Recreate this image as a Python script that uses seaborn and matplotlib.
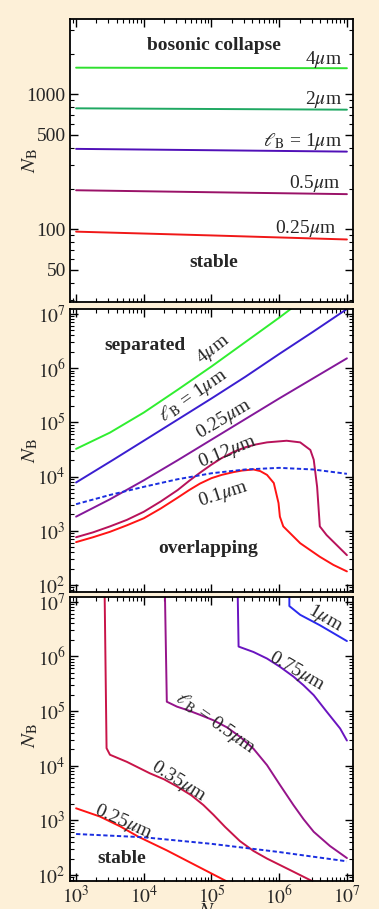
import numpy as np
import pandas as pd
import matplotlib
matplotlib.use("Agg")
import matplotlib.pyplot as plt
import seaborn as sns
from matplotlib.ticker import FixedLocator, NullFormatter, FixedFormatter, LogLocator

sns.set_style("white")
plt.rcParams['font.family'] = ['Liberation Serif', 'DejaVu Serif']
plt.rcParams['mathtext.fontset'] = 'stix'

# ---------------- data (log10 values) ----------------
# Panel 1: N_B threshold vs N (bosonic collapse)
p1_logN = [3.0, 5.0, 7.0]
p1_4um = [1574, 1567, 1560]
p1_2um = [787, 778, 769]
p1_1um = [394, 385, 376]
p1_05um = [194.5, 188, 182]
p1_025um = [96, 90, 84]

# Panel 2: separated / overlapping
p2_4um_logN = [3.0, 3.5, 4.0, 4.5, 5.0, 5.5, 6.0, 6.17]
p2_4um_logNB = [4.51, 4.81, 5.18, 5.60, 6.03, 6.48, 6.93, 7.09]
p2_1um_logN = [3.0, 3.55, 4.0, 4.5, 5.0, 5.5, 6.0, 6.5, 7.0]
p2_1um_logNB = [3.89, 4.31, 4.66, 5.05, 5.44, 5.84, 6.26, 6.67, 7.09]
p2_025um_logN = [3.0, 3.5, 4.0, 4.5, 5.0, 5.5, 6.0, 6.5, 7.0]
p2_025um_logNB = [3.26, 3.58, 3.93, 4.30, 4.68, 5.06, 5.44, 5.81, 6.18]
p2_012um_logN = [3.0, 3.25, 3.5, 3.75, 4.0, 4.25, 4.5, 4.67, 4.83, 5.0, 5.15, 5.32,
                 5.5, 5.65, 5.82, 6.11, 6.31, 6.46, 6.51, 6.56, 6.60, 6.70, 7.0]
p2_012um_logNB = [2.88, 2.97, 3.08, 3.20, 3.35, 3.54, 3.75, 3.92, 4.07, 4.22, 4.34, 4.45,
                  4.54, 4.59, 4.63, 4.66, 4.63, 4.49, 4.31, 3.81, 3.08, 2.92, 2.55]
p2_01um_logN = [3.0, 3.25, 3.5, 3.75, 4.0, 4.25, 4.5, 4.67, 4.83, 5.0, 5.15, 5.32,
                5.45, 5.62, 5.72, 5.82, 5.92, 5.99, 6.01, 6.06, 6.31, 6.60, 6.80, 7.0]
p2_01um_logNB = [2.79, 2.88, 2.98, 3.10, 3.23, 3.41, 3.61, 3.75, 3.87, 3.97, 4.03, 4.08,
                 4.11, 4.13, 4.10, 4.03, 3.88, 3.51, 3.26, 3.08, 2.77, 2.52, 2.37, 2.25]
p2_dash_logN = [3.0, 3.5, 4.0, 4.5, 5.0, 5.5, 6.0, 6.5, 7.0]
p2_dash_logNB = [3.49, 3.66, 3.81, 3.95, 4.06, 4.13, 4.16, 4.13, 4.05]

# Panel 3: stability of the overlapping phase
p3_1um_logN = [6.15, 6.15, 6.19, 6.31, 6.60, 7.0]
p3_1um_logNB = [7.3, 6.92, 6.88, 6.76, 6.57, 6.28]
p3_075um_logN = [5.385, 5.40, 5.42, 5.62, 5.82, 6.01, 6.21, 6.36, 6.51, 6.70, 6.90, 7.0]
p3_075um_logNB = [7.3, 6.18, 6.17, 6.08, 5.96, 5.81, 5.63, 5.47, 5.29, 4.99, 4.68, 4.46]
p3_05um_logN = [4.31, 4.34, 4.49, 4.66, 4.83, 5.03, 5.23, 5.42, 5.62, 5.82, 6.01, 6.21,
                6.36, 6.51, 6.75, 7.0]
p3_05um_logNB = [7.3, 5.17, 5.08, 5.01, 4.93, 4.83, 4.70, 4.53, 4.31, 4.01, 3.65, 3.28,
                 3.02, 2.79, 2.53, 2.31]
p3_035um_logN = [3.42, 3.45, 3.50, 3.75, 4.09, 4.30, 4.49, 4.70, 4.88, 5.03, 5.20, 5.42,
                 5.62, 5.82, 6.21, 6.50]
p3_035um_logNB = [7.3, 4.32, 4.20, 4.07, 3.86, 3.75, 3.62, 3.46, 3.28, 3.10, 2.88, 2.62,
                  2.44, 2.30, 2.06, 1.88]
p3_025um_logN = [3.0, 3.35, 3.65, 3.92, 4.34, 4.73, 5.23]
p3_025um_logNB = [3.22, 3.07, 2.89, 2.70, 2.45, 2.20, 1.88]
p3_dash_logN = [3.0, 4.0, 5.0, 6.0, 7.0]
p3_dash_logNB = [2.75, 2.69, 2.57, 2.42, 2.25]

BG = '#fdf0d8'
LW = 1.4
DASH = (0, (2.2, 1.3))

fig = plt.figure(figsize=(3.79, 9.09), dpi=100, facecolor=BG)
W = 379.0
H = 909.0
def add_ax(top, bottom):
    return fig.add_axes([70 / W, 1 - bottom / H, (353 - 70) / W, (bottom - top) / H])

ax1 = add_ax(19.5, 302)
ax2 = add_ax(309, 592)
ax3 = add_ax(597, 881)

def draw(ax, x, y, color, ls='-'):
    df = pd.DataFrame({'N': np.asarray(x, float), 'NB': np.asarray(y, float)})
    sns.lineplot(data=df, x='N', y='NB', ax=ax, color=color, lw=LW,
                 sort=False, estimator=None, linestyle=ls, legend=False)

for ax in (ax1, ax2, ax3):
    ax.set_facecolor('white')
    ax.set_xscale('log')
    ax.set_yscale('log')

def P(a):
    return [10 ** v for v in a]

# ---- panel 1
xN = P(p1_logN)
draw(ax1, xN, p1_4um, '#2fe02f')
draw(ax1, xN, p1_2um, '#1fa862')
draw(ax1, xN, p1_1um, '#5010b8')
draw(ax1, xN, p1_05um, '#9a1268')
draw(ax1, xN, p1_025um, '#f01818')

# ---- panel 2
draw(ax2, P(p2_4um_logN), P(p2_4um_logNB), '#30ee30')
draw(ax2, P(p2_1um_logN), P(p2_1um_logNB), '#3a1ed0')
draw(ax2, P(p2_025um_logN), P(p2_025um_logNB), '#84189a')
draw(ax2, P(p2_012um_logN), P(p2_012um_logNB), '#b8125a')
draw(ax2, P(p2_01um_logN), P(p2_01um_logNB), '#ff1414')
draw(ax2, P(p2_dash_logN), P(p2_dash_logNB), '#1a2ee0', DASH)

# ---- panel 3
draw(ax3, P(p3_1um_logN), P(p3_1um_logNB), '#2a2aee')
draw(ax3, P(p3_075um_logN), P(p3_075um_logNB), '#6a14c0')
draw(ax3, P(p3_05um_logN), P(p3_05um_logNB), '#96148a')
draw(ax3, P(p3_035um_logN), P(p3_035um_logNB), '#c81448')
draw(ax3, P(p3_025um_logN), P(p3_025um_logNB), '#ff1414')
draw(ax3, P(p3_dash_logN), P(p3_dash_logNB), '#1a2ee0', DASH)

# ---- limits & ticks
xlim = (10 ** 2.91, 10 ** 7.09)
ax1.set_ylim(10 ** 1.461, 10 ** 3.554)
ax2.set_ylim(10 ** 1.87, 10 ** 7.09)
ax3.set_ylim(10 ** 1.89, 10 ** 7.086)

dec_ticks = [1e2, 1e3, 1e4, 1e5, 1e6, 1e7]
dec_labels = ['$10^{2}$', '$10^{3}$', '$10^{4}$', '$10^{5}$', '$10^{6}$', '$10^{7}$']
xt = [1e3, 1e4, 1e5, 1e6, 1e7]
xl = ['$10^{3}$', '$10^{4}$', '$10^{5}$', '$10^{6}$', '$10^{7}$']

for ax in (ax1, ax2, ax3):
    ax.set_xlim(*xlim)
    ax.xaxis.set_major_locator(FixedLocator(xt))
    ax.xaxis.set_minor_locator(LogLocator(base=10, subs=np.arange(2, 10), numticks=20))
    ax.xaxis.set_minor_formatter(NullFormatter())
    ax.yaxis.set_minor_locator(LogLocator(base=10, subs=np.arange(2, 10), numticks=20))
    ax.yaxis.set_minor_formatter(NullFormatter())
    ax.tick_params(which='both', direction='in', top=True, right=True,
                   bottom=True, left=True, color='black', labelsize=14, pad=3)
    ax.tick_params(which='major', length=6, width=1.0)
    ax.tick_params(which='minor', length=3, width=0.8)
    for s in ax.spines.values():
        s.set_linewidth(1.3)
        s.set_color('black')
    ax.set_xlabel('')
    ax.set_ylabel('')

ax1.yaxis.set_major_locator(FixedLocator([50, 100, 500, 1000]))
ax1.yaxis.set_major_formatter(FixedFormatter(['50', '100', '500', '1000']))
for ax in (ax2, ax3):
    ax.yaxis.set_major_locator(FixedLocator(dec_ticks))
    ax.yaxis.set_major_formatter(FixedFormatter(dec_labels))
ax1.xaxis.set_major_formatter(NullFormatter())
ax2.xaxis.set_major_formatter(NullFormatter())
ax3.xaxis.set_major_formatter(FixedFormatter(xl))

# ---- axis titles
for yc in (160.7, 450.5, 736):
    fig.text(30 / W, 1 - yc / H, r'$N_{\mathrm{B}}$', rotation=90, ha='center',
             va='center', fontsize=15)
fig.text(207 / W, 1 - 902 / H, r'$N$', ha='center', va='top', fontsize=15)

FS = 14
def lab(ax, lx, ly, s, rot=0, ha='center', bold=False, fs=FS):
    ax.text(10 ** lx, 10 ** ly, s, rotation=rot, ha=ha, va='center',
            rotation_mode='anchor', fontsize=fs,
            fontweight='bold' if bold else 'normal')

mu = r'$\mu$m'
# panel 1 labels
lab(ax1, 5.04, 3.365, 'bosonic collapse', bold=True)
lab(ax1, 6.93, 3.254, '4' + mu, ha='right')
lab(ax1, 6.93, 2.958, '2' + mu, ha='right')
lab(ax1, 6.93, 2.649, r'$\ell_{\mathrm{B}}$ = 1' + mu, ha='right')
lab(ax1, 6.90, 2.336, '0.5' + mu, ha='right')
lab(ax1, 6.84, 2.002, '0.25' + mu, ha='right')
lab(ax1, 5.04, 1.756, 'stable', bold=True)

# panel 2 labels
lab(ax2, 4.02, 6.42, 'separated', bold=True)
lab(ax2, 5.03, 6.35, '4' + mu, rot=38)
lab(ax2, 4.73, 5.49, r'$\ell_{\mathrm{B}}$ = 1' + mu, rot=35)
lab(ax2, 5.18, 5.05, '0.25' + mu, rot=31)
lab(ax2, 5.23, 4.46, '0.12' + mu, rot=22)
lab(ax2, 5.18, 3.68, '0.1' + mu, rot=18)
lab(ax2, 4.95, 2.68, 'overlapping', bold=True)

# panel 3 labels
lab(ax3, 6.68, 6.70, '1' + mu, rot=-30)
lab(ax3, 6.26, 5.72, '0.75' + mu, rot=-30)
lab(ax3, 5.05, 4.78, r'$\ell_{\mathrm{B}}$ = 0.5' + mu, rot=-35)
lab(ax3, 4.51, 3.71, '0.35' + mu, rot=-32)
lab(ax3, 3.70, 2.97, '0.25' + mu, rot=-24)
lab(ax3, 3.67, 2.31, 'stable', bold=True)

fig.savefig('out.png', dpi=100, facecolor=BG)
